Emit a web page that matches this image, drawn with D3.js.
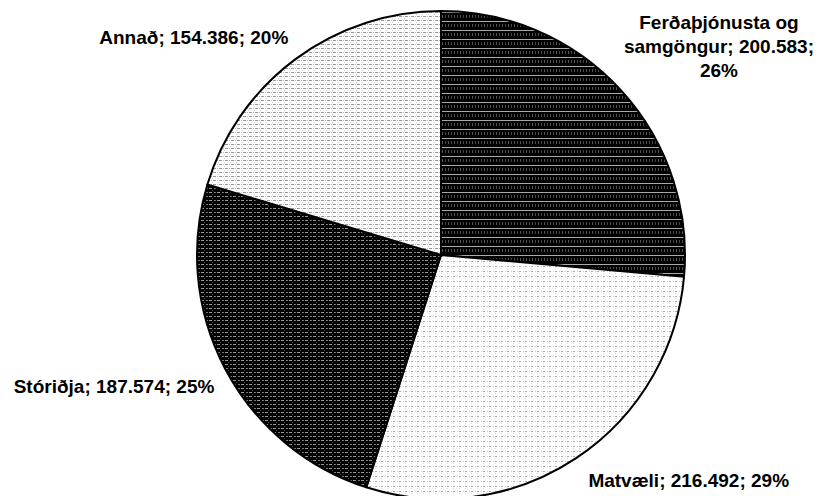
<!DOCTYPE html>
<html><head><meta charset="utf-8">
<script src="https://cdn.jsdelivr.net/npm/d3@7"></script>
<style>html,body{margin:0;padding:0;background:#fff;}svg{display:block;}</style>
</head><body>
<svg id="chart" width="824" height="496"></svg>
<script>
const categories = ["Ferðaþjónusta og samgöngur", "Matvæli", "Stóriðja", "Annað"];
const values = [200583, 216492, 187574, 154386];
const valueLabels = ["200.583", "216.492", "187.574", "154.386"];
const percentLabels = ["26%", "29%", "25%", "20%"];
const patternIds = ["pFerd", "pMatv", "pStor", "pAnn"];

const W = 824, H = 496;
const cx = 441, cy = 255, R = 244;
const svg = d3.select("#chart");
const defs = svg.append("defs");

// Ferðaþjónusta: dark with light horizontal lines + grey vertical dashes
let p = defs.append("pattern").attr("id","pFerd").attr("patternUnits","userSpaceOnUse").attr("width",6).attr("height",9);
p.append("rect").attr("width",6).attr("height",9).attr("fill","#000");
p.append("rect").attr("y",0).attr("width",6).attr("height",1).attr("fill","#aaa");
p.append("rect").attr("x",1).attr("y",3).attr("width",1).attr("height",3).attr("fill","#555");
p.append("rect").attr("x",4).attr("y",3).attr("width",1).attr("height",3).attr("fill","#444");

// Matvæli: white with light dot grid
p = defs.append("pattern").attr("id","pMatv").attr("patternUnits","userSpaceOnUse").attr("width",6).attr("height",5);
p.append("rect").attr("width",6).attr("height",5).attr("fill","#fff");
p.append("rect").attr("x",0).attr("y",1).attr("width",2).attr("height",1).attr("fill","#aaa");
p.append("rect").attr("x",4).attr("y",1).attr("width",1).attr("height",1).attr("fill","#ccc");
p.append("rect").attr("x",0).attr("y",3).attr("width",1).attr("height",1).attr("fill","#ddd");

// Stóriðja: black with grey horizontal dashes
p = defs.append("pattern").attr("id","pStor").attr("patternUnits","userSpaceOnUse").attr("width",8).attr("height",4);
p.append("rect").attr("width",8).attr("height",4).attr("fill","#000");
p.append("rect").attr("x",0).attr("y",1).attr("width",3).attr("height",1).attr("fill","#999");
p.append("rect").attr("x",5).attr("y",1).attr("width",2).attr("height",1).attr("fill","#777");
p.append("rect").attr("x",3).attr("y",3).attr("width",1).attr("height",1).attr("fill","#444");

// Annað: light with dashed grey grid
p = defs.append("pattern").attr("id","pAnn").attr("patternUnits","userSpaceOnUse").attr("width",6).attr("height",4);
p.append("rect").attr("width",6).attr("height",4).attr("fill","#fff");
p.append("rect").attr("x",0).attr("y",1).attr("width",3).attr("height",1).attr("fill","#999");
p.append("rect").attr("x",4).attr("y",1).attr("width",1).attr("height",1).attr("fill","#bbb");
p.append("rect").attr("x",5).attr("y",3).attr("width",1).attr("height",1).attr("fill","#ccc");

const data = categories.map((c,i)=>({cat:c, value:values[i], i}));
const pie = d3.pie().sort(null).value(d=>d.value);
const arcs = pie(data);
const arc = d3.arc().innerRadius(0).outerRadius(R);

const g = svg.append("g").attr("transform",`translate(${cx},${cy})`);
g.selectAll("path.slice").data(arcs).join("path")
  .attr("class","slice")
  .attr("d",arc)
  .attr("fill",d=>`url(#${patternIds[d.data.i]})`)
  .attr("stroke","#000").attr("stroke-width",2).attr("stroke-linejoin","round");

// Labels
const fontSize = 19, lineH = 24, pad = 12, maxW = 200;
const lg = svg.append("g").attr("font-family","'Liberation Sans', Arial, sans-serif")
  .attr("font-weight","bold").attr("font-size",fontSize).attr("fill","#000");

const measure = lg.append("text");
function textW(s){ measure.text(s); return measure.node().getComputedTextLength(); }

arcs.forEach(a=>{
  const i = a.data.i;
  const full = `${categories[i]}; ${valueLabels[i]}; ${percentLabels[i]}`;
  const mid = (a.startAngle + a.endAngle)/2;
  const px = cx + (R+pad)*Math.sin(mid);
  const py = cy - (R+pad)*Math.cos(mid);
  const right = Math.sin(mid) >= 0;
  const upper = Math.cos(mid) >= 0;
  const avail = Math.max(maxW, right ? (W - px - 4) : (px - 4));
  const fitsWhole = right ? (px + textW(full) <= W - 4) : (px - textW(full) >= 4);
  const lines = [];
  if (fitsWhole) lines.push(full);
  else {
    let cur = "";
    full.split(" ").forEach(w=>{
      const t = cur ? cur + " " + w : w;
      if (cur && textW(t) > maxW) { lines.push(cur); cur = w; } else cur = t;
    });
    lines.push(cur);
  }
  const bw = d3.max(lines, l=>textW(l));
  const bh = lines.length*lineH;
  let left = right ? px + 6 : px - bw;
  if (left + bw > W - 10) left = W - 10 - bw;
  const top = upper ? py - bh : py;
  const t = lg.append("text").attr("text-anchor","middle");
  lines.forEach((l,k)=>{
    t.append("tspan").attr("x", left + bw/2).attr("y", top + k*lineH + lineH/2).attr("dy","0.35em").text(l);
  });
});
measure.remove();
</script>
</body></html>
